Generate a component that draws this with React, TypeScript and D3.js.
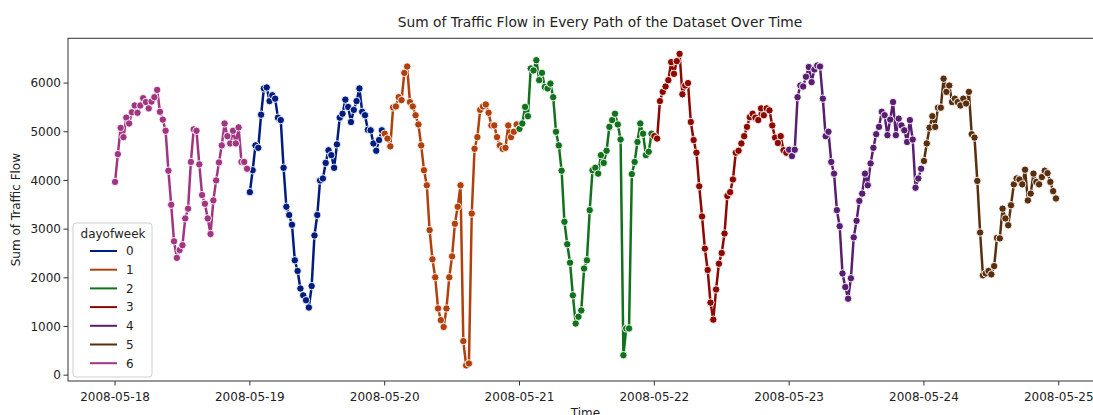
import React from 'react';
import * as d3 from 'd3';

// ---- data (30-minute sums of traffic flow) ----
const dayCodes = [6, 0, 1, 2, 3, 4, 5];
const dayStarts = ['2008-05-18', '2008-05-19', '2008-05-20', '2008-05-21', '2008-05-22', '2008-05-23', '2008-05-24'];

const sunFlow = [3970, 4540, 5080, 4890, 5290, 5170, 5400, 5540, 5390, 5540, 5690, 5610, 5480, 5620, 5710, 5860, 5410, 5250, 5020, 4200, 3500, 2750, 2410, 2570, 2670, 3220, 3420, 4380, 5050, 5020, 4330, 3700, 3520, 3220, 2900, 3590, 4000, 4370, 4720, 5170, 4910, 4760, 5020, 4760, 5090, 4380, 4380, 4240];
const monFlow = [3760, 4210, 4720, 4670, 5350, 5890, 5910, 5630, 5750, 5680, 5290, 5240, 4260, 3460, 3290, 3090, 2360, 2140, 1780, 1640, 1540, 1390, 1830, 2870, 3290, 4000, 4040, 4360, 4620, 4520, 4260, 4740, 5290, 5370, 5660, 5510, 5200, 5450, 5630, 5890, 5410, 5340, 5040, 5030, 4760, 4610, 4830, 5030];
const tueFlow = [4960, 4860, 4700, 5500, 5520, 5710, 5650, 6210, 6340, 5610, 5520, 5340, 5150, 4720, 4210, 3900, 2980, 2380, 2010, 1370, 1130, 990, 1370, 2010, 2440, 3110, 3460, 3900, 700, 200, 240, 3320, 4650, 4890, 5450, 5520, 5560, 5390, 5130, 5130, 4890, 4720, 4650, 4670, 5130, 4890, 5000, 5150];
const wedFlow = [5060, 5170, 5510, 5320, 6300, 6260, 6470, 6060, 6210, 5920, 5890, 5990, 5710, 5000, 4720, 4200, 3150, 2690, 2310, 1640, 1060, 1200, 1330, 2190, 2360, 3390, 4210, 4260, 4140, 4520, 4360, 4610, 5100, 5240, 5370, 5150, 4840, 410, 960, 960, 4130, 4380, 4790, 5170, 4960, 4520, 4590, 4960];
const thuFlow = [4910, 4860, 5630, 5820, 5930, 6060, 6430, 6190, 6450, 6600, 5770, 5950, 6000, 5200, 4830, 4570, 3880, 3260, 2600, 2160, 1490, 1140, 1760, 2290, 2510, 2910, 3680, 3760, 4020, 4570, 4610, 4760, 4910, 5100, 5300, 5370, 5290, 5240, 5480, 5340, 5480, 5440, 5130, 4880, 4770, 4910, 4620, 4570];
const friFlow = [4630, 4500, 4630, 5710, 5950, 5930, 6130, 6330, 6020, 6280, 6360, 6340, 5680, 4910, 5000, 4380, 4140, 3390, 3060, 2090, 1810, 1570, 1990, 2830, 3170, 3580, 3730, 4140, 3900, 4350, 4670, 4950, 5100, 5410, 5340, 4930, 5250, 5610, 4930, 5270, 5130, 5030, 4790, 5240, 4840, 3850, 4040, 4240];
const satFlow = [4400, 4760, 5085, 5320, 5100, 5495, 5495, 6090, 5820, 5950, 5610, 5680, 5610, 5540, 5680, 5580, 5820, 4950, 4880, 3990, 2930, 2050, 2090, 2140, 2070, 2240, 2820, 2810, 3420, 3220, 3080, 3490, 3920, 4040, 4020, 3920, 4220, 3590, 3730, 4140, 3970, 3920, 4070, 4200, 4150, 3970, 3780, 3630];

const seriesValues = [sunFlow, monFlow, tueFlow, wedFlow, thuFlow, friFlow, satFlow];

const palette = ['#001c7f', '#b1400d', '#12711c', '#8c0800', '#591e71', '#592f0d', '#a23582'];
const legendCodes = [0, 1, 2, 3, 4, 5, 6];
const yTicks = [0, 1000, 2000, 3000, 4000, 5000, 6000];
const xTickLabels = ['2008-05-18', '2008-05-19', '2008-05-20', '2008-05-21', '2008-05-22', '2008-05-23', '2008-05-24', '2008-05-25'];

const W = 1093;
const H = 415;
const HOUR = 3600 * 1000;
const FONT = '"DejaVu Sans", sans-serif';

export default function App() {
  const t0 = Date.parse(xTickLabels[0] + 'T00:00:00Z');
  const x = d3
    .scaleUtc()
    .domain([new Date(t0 - 8.375 * HOUR), new Date(t0 + 175.875 * HOUR)])
    .range([68, 1103]);
  const y = d3.scaleLinear().domain([-120, 6920]).range([381, 38.3]);

  const series = seriesValues.map((vals, si) => {
    const start = Date.parse(dayStarts[si] + 'T00:00:00Z');
    return {
      code: dayCodes[si],
      pts: vals.map((v, i) => ({ t: new Date(start + i * 0.5 * HOUR), v })),
    };
  });
  // seaborn draws hue levels in sorted order
  const ordered = [...series].sort((a, b) => a.code - b.code);

  const line = d3
    .line<{ t: Date; v: number }>()
    .x((d) => x(d.t))
    .y((d) => y(d.v));

  const [x0, x1] = x.range();
  const [yb, yt] = y.range();

  return (
    <svg width={W} height={H} style={{ position: 'absolute', left: 0, top: 0, background: '#fff' }} fontFamily={FONT}>
      <rect x={0} y={0} width={W} height={H} fill="#fff" />
      <defs>
        <clipPath id="plotclip">
          <rect x={x0} y={yt} width={x1 - x0} height={yb - yt} />
        </clipPath>
      </defs>

      {/* title */}
      <text x={600} y={27} textAnchor="middle" fontSize={13.8} fill="#222">
        Sum of Traffic Flow in Every Path of the Dataset Over Time
      </text>

      {/* series */}
      <g clipPath="url(#plotclip)">
        {ordered.map((s) => (
          <g key={s.code}>
            <path d={line(s.pts) || ''} fill="none" stroke={palette[s.code]} strokeWidth={2.5} strokeLinejoin="round" strokeLinecap="round" />
            {s.pts.map((p, i) => (
              <circle key={i} cx={x(p.t)} cy={y(p.v)} r={3.7} fill={palette[s.code]} stroke="#fff" strokeWidth={0.9} />
            ))}
          </g>
        ))}
      </g>

      {/* spines */}
      <rect x={x0} y={yt} width={x1 - x0} height={yb - yt} fill="none" stroke="#333" strokeWidth={1} />

      {/* y ticks */}
      {yTicks.map((v) => (
        <g key={v}>
          <line x1={x0 - 4.5} x2={x0} y1={y(v)} y2={y(v)} stroke="#333" strokeWidth={1} />
          <text x={x0 - 7} y={y(v) + 4.3} textAnchor="end" fontSize={12} fill="#222">
            {v}
          </text>
        </g>
      ))}

      {/* x ticks */}
      {xTickLabels.map((lab) => {
        const xp = x(new Date(Date.parse(lab + 'T00:00:00Z')));
        return (
          <g key={lab}>
            <line x1={xp} x2={xp} y1={yb} y2={yb + 4.5} stroke="#333" strokeWidth={1} />
            <text x={xp} y={401} textAnchor="middle" fontSize={12} fill="#222">
              {lab}
            </text>
          </g>
        );
      })}

      {/* axis labels */}
      <text x={(x0 + x1) / 2} y={417} textAnchor="middle" fontSize={12} fill="#222">
        Time
      </text>
      <text transform={`translate(20, ${(yb + yt) / 2}) rotate(-90)`} textAnchor="middle" fontSize={12} fill="#222">
        Sum of Traffic Flow
      </text>

      {/* legend */}
      <g>
        <rect x={73} y={223} width={79} height={154} rx={3} fill="#fff" fillOpacity={0.8} stroke="#d0d0d0" strokeWidth={1} />
        <text x={113} y={237.5} textAnchor="middle" fontSize={12} fill="#222">
          dayofweek
        </text>
        {legendCodes.map((c, i) => {
          const cy = 251 + i * 18.7;
          return (
            <g key={c}>
              <line x1={90} x2={117} y1={cy} y2={cy} stroke={palette[c]} strokeWidth={2} />
              <text x={126} y={cy + 4.3} fontSize={12} fill="#222">
                {c}
              </text>
            </g>
          );
        })}
      </g>
    </svg>
  );
}
